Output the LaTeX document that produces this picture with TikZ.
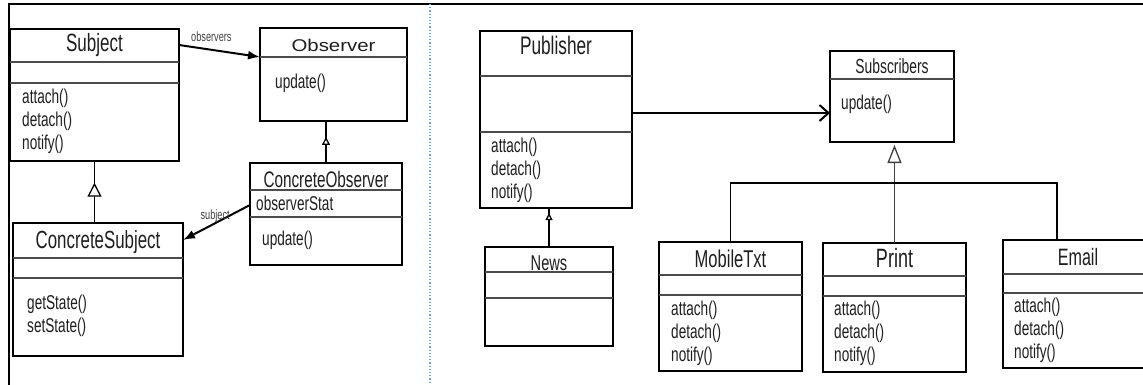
\documentclass[tikz,border=0pt]{standalone}
\usepackage{fontspec}
\setmainfont{Liberation Sans}[FakeStretch=0.68]
\newfontfamily\widefont{Liberation Sans}[FakeStretch=1.2]
\usetikzlibrary{arrows.meta,decorations.markings}
\definecolor{dotblue}{HTML}{6FA8DC}
\definecolor{ink}{HTML}{1E1E1E}

\tikzset{
  classbox/.style={draw, line width=2.4pt, inner sep=0pt, outer sep=0pt, anchor=north west},
  divider/.style={draw=black!70, line width=1.3pt},
  classname/.style={ink, anchor=base, inner sep=0pt, font=\fontsize{#1}{#1}\selectfont},
  ops/.style={ink, anchor=west, align=left, inner sep=0pt, font=\fontsize{20}{23}\selectfont},
  role/.style={black!75, inner sep=0pt, font=\fontsize{13.5}{14}\selectfont},
  assoc/.style={line width=2pt, -{Latex[length=12pt,width=9pt]}},
  gen/.style 2 args={line width=1.3pt, postaction={decorate},
    decoration={markings, mark=at position #1 with {\arrow{Triangle[fill=white,line width=1.3pt,length=#2,width=#2]}}}},
}

\begin{document}
\begin{tikzpicture}[x=1pt,y=-1pt]
\useasboundingbox (0,0) rectangle (1143,385);
% frame and middle split
\draw[line width=2pt] (1143,4) -- (9,4) -- (9,385);
\draw[dotblue, dotted, line width=1.2pt] (430,4) -- (430,385);

% observer pattern, left half
\node[classbox, minimum width=169, minimum height=132] (subject) at (10,29) {};
\draw[divider] (subject.west |- 0,62) -- (subject.east |- 0,62);
\draw[divider] (subject.west |- 0,83) -- (subject.east |- 0,83);
\node[classname=25] (subjectName) at (94.5,52) {Subject};
\node[ops] (subjectOps) at (22,121) {attach()\\detach()\\notify()};

\node[classbox, minimum width=147, minimum height=93] (observer) at (260,28) {};
\draw[divider] (observer.west |- 0,57) -- (observer.east |- 0,57);
\node[classname=17] (observerName) at (333.5,52) {\widefont Observer};
\node[ops] (observerOps) at (275,83) {update()};

\node[classbox, minimum width=152, minimum height=102] (concObs) at (250,163) {};
\draw[divider] (concObs.west |- 0,190) -- (concObs.east |- 0,190);
\draw[divider] (concObs.west |- 0,217) -- (concObs.east |- 0,217);
\node[classname=22.5] (concObsName) at (326,187) {ConcreteObserver};
\node[ops] (concObsState) at (256,203) {observerStat};
\node[ops] (concObsOps) at (262,240) {update()};

\node[classbox, minimum width=170, minimum height=133] (concSubj) at (13,223) {};
\draw[divider] (concSubj.west |- 0,258) -- (concSubj.east |- 0,258);
\draw[divider] (concSubj.west |- 0,278) -- (concSubj.east |- 0,278);
\node[classname=24.8] (concSubjName) at (98,248) {ConcreteSubject};
\node[ops] (concSubjOps) at (27,316) {getState()\\setState()};

\draw[assoc] (subject.east |- 0,45) -- node[role, above=7pt, pos=0.4] {observers} (observer.west |- 0,57);
\draw[assoc] (concObs.west |- 0,205) -- node[role, above=0pt, pos=0.52] {subject} (concSubj.east |- 0,240);
\draw[gen={0.65}{14pt}] (subject.south |- concSubj.north) -- (subject.south);
\draw[gen={0.62}{8pt}] (concObs.north) -- (concObs.north |- observer.south);

% publisher / subscribers, right half
\node[classbox, minimum width=152, minimum height=177] (publisher) at (480,31) {};
\draw[divider] (publisher.west |- 0,76) -- (publisher.east |- 0,76);
\draw[divider] (publisher.west |- 0,132) -- (publisher.east |- 0,132);
\node[classname=25.4] (publisherName) at (556,55) {Publisher};
\node[ops] (publisherOps) at (491,170) {attach()\\detach()\\notify()};

\node[classbox, minimum width=124, minimum height=91] (subscribers) at (830,51) {};
\draw[divider] (subscribers.west |- 0,79) -- (subscribers.east |- 0,79);
\node[classname=20.4] (subscribersName) at (892,74) {Subscribers};
\node[ops] (subscribersOps) at (841,104) {update()};

\node[classbox, minimum width=128, minimum height=99] (news) at (485,247) {};
\draw[divider] (news.west |- 0,272) -- (news.east |- 0,272);
\draw[divider] (news.west |- 0,298) -- (news.east |- 0,298);
\node[classname=21.5] (newsName) at (549,270) {News};

\node[classbox, minimum width=143, minimum height=129] (mobile) at (659,242) {};
\draw[divider] (mobile.west |- 0,275) -- (mobile.east |- 0,275);
\draw[divider] (mobile.west |- 0,295) -- (mobile.east |- 0,295);
\node[classname=24.3] (mobileName) at (730.5,267) {MobileTxt};
\node[ops] (mobileOps) at (671,333) {attach()\\detach()\\notify()};

\node[classbox, minimum width=143, minimum height=129] (print) at (823,243) {};
\draw[divider] (print.west |- 0,276) -- (print.east |- 0,276);
\draw[divider] (print.west |- 0,296) -- (print.east |- 0,296);
\node[classname=26.5] (printName) at (894.5,267) {Print};
\node[ops] (printOps) at (834,333) {attach()\\detach()\\notify()};

\node[classbox, minimum width=150, minimum height=128] (email) at (1003,240) {};
\draw[divider] (email.west |- 0,274) -- (email.east |- 0,274);
\draw[divider] (email.west |- 0,293) -- (email.east |- 0,293);
\node[classname=23.7] (emailName) at (1078,265) {Email};
\node[ops] (emailOps) at (1014,330) {attach()\\detach()\\notify()};

\draw[line width=2pt, -{Straight Barb[length=9pt,width=16pt,line width=2pt]}] (publisher.east |- 0,113) -- (subscribers.west |- 0,113);
\draw[gen={0.87}{7pt}] (news.north) -- (news.north |- publisher.south);
\draw[line width=1.3pt, black!75, -{Triangle[fill=white,length=18pt,width=14pt]}, shorten >=3pt] (print.north) -- (print.north |- subscribers.south);
\coordinate (branch) at (894.5,183);
\draw[line width=1.3pt] (mobile.north) |- (branch) -| ([xshift=-21pt]email.north);
\end{tikzpicture}
\end{document}
